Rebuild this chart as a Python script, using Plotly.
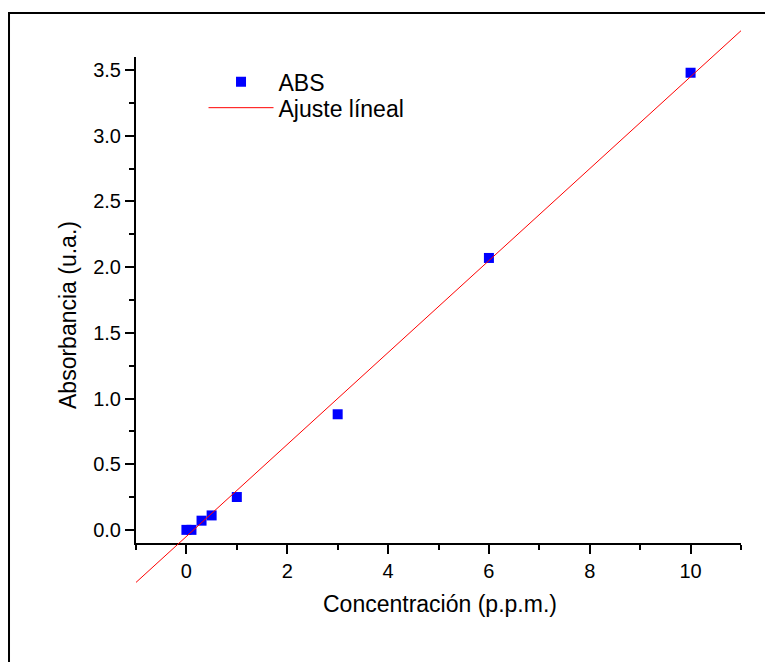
import plotly.graph_objects as go

# ---- data ----
conc = [0.0, 0.1, 0.3, 0.5, 1.0, 3.0, 6.0, 10.0]
absorb = [0.0, 0.0, 0.07, 0.11, 0.25, 0.88, 2.07, 3.48]
fit_slope = 0.35
fit_intercept = -0.05
fit_x = [-1.0, 11.0]
fit_y = [fit_slope * v + fit_intercept for v in fit_x]

x_range = [-1, 11]
y_range = [-0.1, 3.6]

x_title = "Concentración (p.p.m.)"
y_title = "Absorbancia (u.a.)"
name_pts = "ABS"
name_fit = "Ajuste líneal"

FONT = "Arial, 'Liberation Sans', Helvetica, sans-serif"

# main y-axis domain (inside a taller paper area so the fit line can overrun the axes)
y_dom = [0.0740, 0.9513]
scale = (y_range[1] - y_range[0]) / (y_dom[1] - y_dom[0])
y2_range = [y_range[0] - y_dom[0] * scale, y_range[1] + (1 - y_dom[1]) * scale]

fig = go.Figure()
fig.add_trace(go.Scatter(
    x=conc, y=absorb, mode="markers", name=name_pts,
    marker=dict(symbol="square", size=10, color="#0000ff", line=dict(width=0)),
    xaxis="x", yaxis="y", legend="legend",
))
fig.add_trace(go.Scatter(
    x=fit_x, y=fit_y, mode="lines", name=name_fit,
    line=dict(color="#ff0000", width=1),
    xaxis="x2", yaxis="y2", legend="legend2",
))

axis_common = dict(
    showline=True, linecolor="black", linewidth=2,
    showgrid=False, zeroline=False,
    ticks="outside", ticklen=9, tickwidth=2, tickcolor="black",
    tickfont=dict(family=FONT, size=20, color="black"),
)

legend_common = dict(xanchor="left", yanchor="top",
                     bgcolor="rgba(0,0,0,0)", borderwidth=0,
                     font=dict(family=FONT, size=23, color="black"),
                     itemwidth=65)

fig.update_layout(
    width=773, height=662,
    margin=dict(l=128, r=40, t=22, b=86),
    paper_bgcolor="white", plot_bgcolor="rgba(0,0,0,0)",
    font=dict(family=FONT, color="black"),
    xaxis=dict(range=x_range, domain=[0, 1], anchor="y", dtick=2, tick0=0,
               minor=dict(dtick=1, tick0=0, ticks="outside", ticklen=5, tickwidth=2, tickcolor="black"),
               **axis_common),
    yaxis=dict(range=y_range, domain=y_dom, anchor="x", dtick=0.5, tick0=0, tickformat=".1f",
               minor=dict(dtick=0.25, tick0=0, ticks="outside", ticklen=5, tickwidth=2, tickcolor="black"),
               **axis_common),
    xaxis2=dict(range=x_range, domain=[0, 1], anchor="y2", visible=False),
    yaxis2=dict(range=y2_range, domain=[0, 1], anchor="x2", visible=False),
    showlegend=True,
    legend=dict(x=0.1116, y=0.9455, **legend_common),
    legend2=dict(x=0.1116, y=0.8985, **legend_common),
    annotations=[
        dict(text=x_title, xref="paper", yref="paper", x=0.5025, y=-0.036,
             xanchor="center", yanchor="middle", showarrow=False,
             font=dict(family=FONT, size=23, color="black")),
        dict(text=y_title, xref="paper", yref="paper", x=-0.1124, y=0.4856,
             xanchor="center", yanchor="middle", showarrow=False, textangle=-90,
             font=dict(family=FONT, size=23, color="black")),
    ],
    shapes=[
        dict(type="rect", xref="paper", yref="paper",
             x0=-0.2099, x1=1.2, y0=-0.3, y1=1.0307,
             line=dict(color="black", width=2), fillcolor="rgba(0,0,0,0)", layer="above"),
    ],
)

fig.write_html("out.html")
